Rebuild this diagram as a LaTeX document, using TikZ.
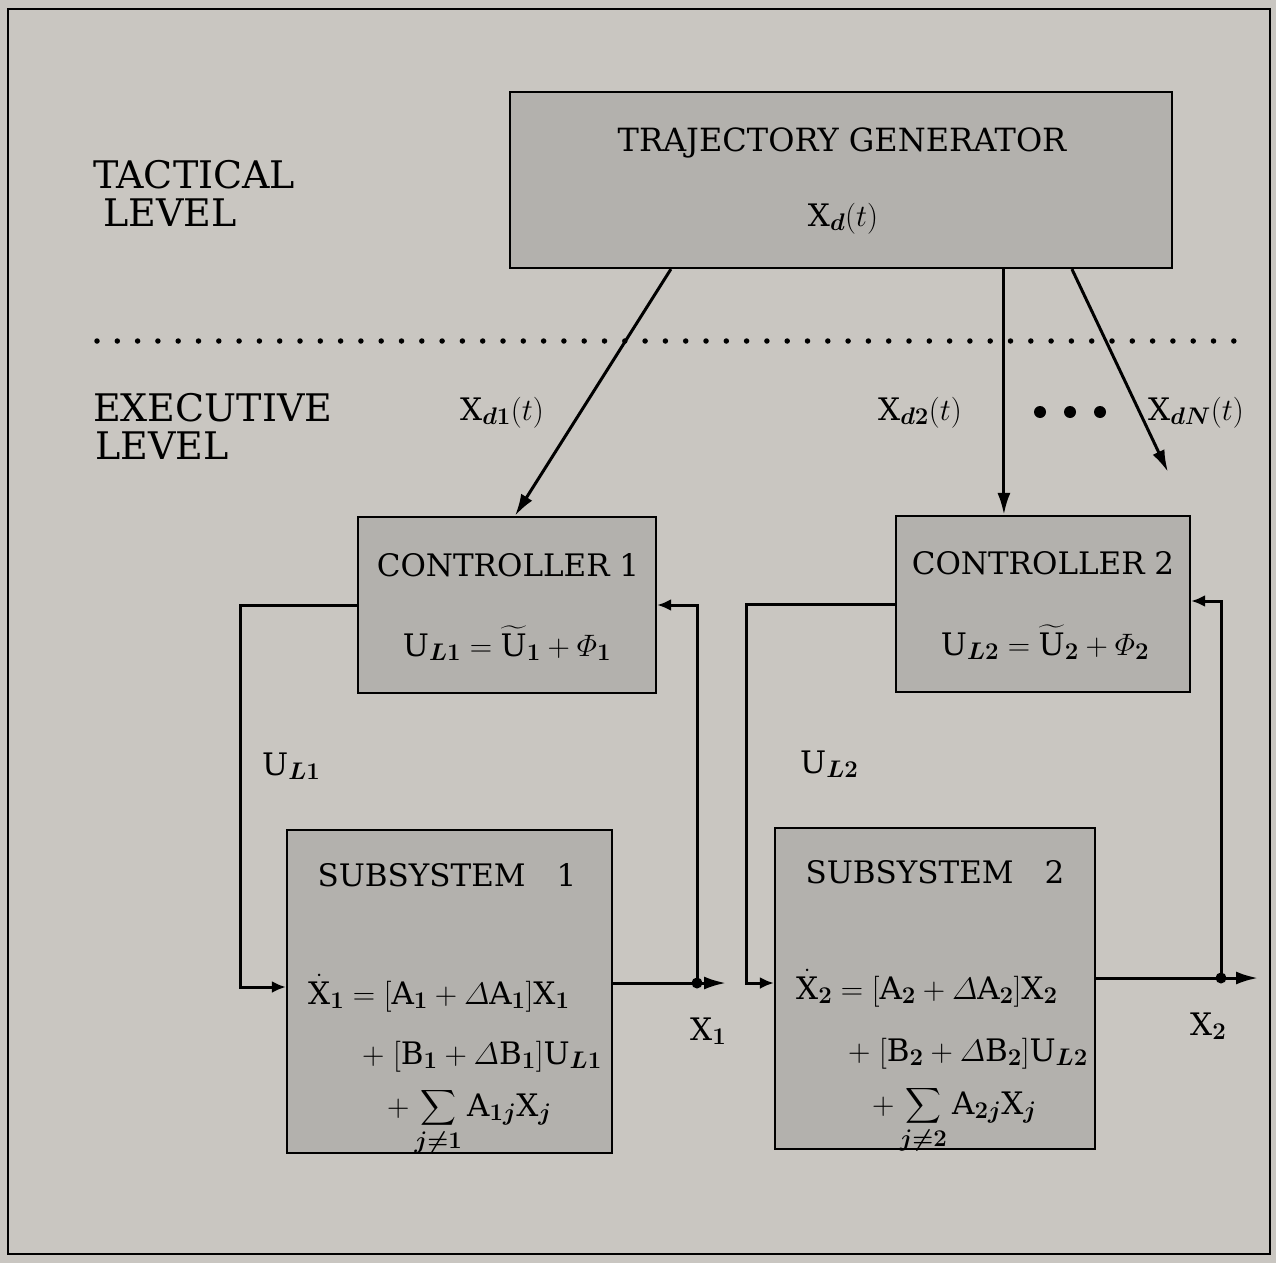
\RequirePackage{fix-cm}
\documentclass[tikz,border=0pt]{standalone}
\usepackage{amsmath}
\usepackage{fontspec}
\setmainfont{DejaVu Serif}
\usetikzlibrary{arrows.meta}
\DeclareMathSizes{31}{31}{24}{18}
\definecolor{paper}{RGB}{201,198,193}
\definecolor{boxfill}{RGB}{179,177,173}
\newcommand{\rmX}{\mathrm{X}}
\newcommand{\rmU}{\mathrm{U}}
\newcommand{\rmA}{\mathrm{A}}
\newcommand{\rmB}{\mathrm{B}}
\newcommand{\bi}[1]{\boldsymbol{#1}}
\begin{document}
\begin{tikzpicture}[x=1pt,y=-1pt,
  blk/.style={draw=black, line width=2.2pt, fill=boxfill, inner sep=0pt},
  conn/.style={line width=3pt},
  bigarr/.style={conn, -{Latex[length=22pt,width=13pt]}},
  smallarr/.style={conn, -{Latex[length=14pt,width=12pt]}},
  txt/.style={font=\fontsize{31}{37}\selectfont, inner sep=0pt},
  lvl/.style={font=\fontsize{38}{42}\selectfont, inner sep=0pt, anchor=base west},
]
\fill[paper] (0,0) rectangle (1276,1263);
\useasboundingbox (0,0) rectangle (1276,1263);
\draw[line width=2.5pt] (8,9) rectangle (1270,1254);

% level labels
\node[lvl] (tac) at (93,188) {TACTICAL};
\node[lvl] (tacl) at (103,226) {LEVEL};
\node[lvl] (exe) at (93,421) {EXECUTIVE};
\node[lvl] (exel) at (95,459) {LEVEL};

% divider
\draw[line width=5.5pt, line cap=round, dash pattern=on 0pt off 20.3pt] (97,341) -- (1236,341);

% boxes
\node[blk, minimum width=662pt, minimum height=176pt] (tg) at (841,180) {};
\node[blk, minimum width=298pt, minimum height=176pt] (c1) at (507,605) {};
\node[blk, minimum width=294pt, minimum height=176pt] (c2) at (1043,604) {};
\node[blk, minimum width=325pt, minimum height=323pt] (s1) at (449.5,991.5) {};
\node[blk, minimum width=320pt, minimum height=321pt] (s2) at (935,988.5) {};

% box texts
\node[txt, anchor=base] (tgt) at (842,151) {\fontsize{32}{37}\selectfont TRAJECTORY GENERATOR};
\node[txt, anchor=base] (tgx) at (843,226) {$\rmX_{\bi{d}}(t)$};
\node[txt, anchor=base] (c1t) at (508,576) {CONTROLLER 1};
\node[txt, anchor=base] (c1e) at (507,656) {$\rmU_{\bi{L1}}=\widetilde{\rmU}_{\bi{1}}+\varPhi_{\bi{1}}$};
\node[txt, anchor=base] (c2t) at (1043,574) {CONTROLLER 2};
\node[txt, anchor=base] (c2e) at (1045,655) {$\rmU_{\bi{L2}}=\widetilde{\rmU}_{\bi{2}}+\varPhi_{\bi{2}}$};
\node[txt, anchor=base] (s1t) at (447,886) {SUBSYSTEM\quad 1};
\node[txt, anchor=base] (s2t) at (935,883) {SUBSYSTEM\quad 2};

\node[txt, anchor=base west] (s1a) at (308,1004) {$\dot{\rmX}_{\bi{1}}=[\rmA_{\bi{1}}+\varDelta\rmA_{\bi{1}}]\rmX_{\bi{1}}$};
\node[txt, anchor=base west] (s1b) at (362,1064) {$+\;[\rmB_{\bi{1}}+\varDelta\rmB_{\bi{1}}]\rmU_{\bi{L1}}$};
\node[txt, anchor=base west] (s1c) at (387,1116) {$\displaystyle+\sum\limits_{\bi{j\neq1}}\rmA_{\bi{1j}}\rmX_{\bi{j}}$};

\node[txt, anchor=base west] (s2a) at (796,999) {$\dot{\rmX}_{\bi{2}}=[\rmA_{\bi{2}}+\varDelta\rmA_{\bi{2}}]\rmX_{\bi{2}}$};
\node[txt, anchor=base west] (s2b) at (848,1061) {$+\;[\rmB_{\bi{2}}+\varDelta\rmB_{\bi{2}}]\rmU_{\bi{L2}}$};
\node[txt, anchor=base west] (s2c) at (872,1114) {$\displaystyle+\sum\limits_{\bi{j\neq2}}\rmA_{\bi{2j}}\rmX_{\bi{j}}$};

% signal labels
\node[txt, anchor=base west] (ld1) at (460,420) {$\rmX_{\bi{d1}}(t)$};
\node[txt, anchor=base west] (ld2) at (878,420) {$\rmX_{\bi{d2}}(t)$};
\node[txt, anchor=base west] (ldN) at (1148,420) {$\rmX_{\bi{dN}}(t)$};
\node[txt, anchor=base west] (lu1) at (262,775) {$\rmU_{\bi{L1}}$};
\node[txt, anchor=base west] (lu2) at (800,773) {$\rmU_{\bi{L2}}$};
\node[txt, anchor=base west] (lx1) at (690,1040) {$\rmX_{\bi{1}}$};
\node[txt, anchor=base west] (lx2) at (1190,1035) {$\rmX_{\bi{2}}$};

% ellipsis dots
\fill (1040,412) circle (6);
\fill (1070,412) circle (6);
\fill (1100,412) circle (6);

% connectors from trajectory generator
\coordinate (dNend) at (1168,472);
\draw[bigarr] ([xshift=162pt]tg.south west) -- ([xshift=158pt]c1.north west);
\draw[bigarr] ([xshift=495pt]tg.south west) -- ([xshift=109pt]c2.north west);
\draw[bigarr] ([xshift=563pt]tg.south west) -- (dNend);

% loop 1
\coordinate (x1out) at (726,983);
\coordinate (j1) at (697,983);
\draw[smallarr] (c1.west) -- ++(-116,0) |- ([yshift=4.5pt]s1.west);
\draw[bigarr] ([yshift=8.5pt]s1.east) -- (x1out);
\draw[smallarr] (j1) |- (c1.east);
\fill (j1) circle (5.5);

% loop 2
\coordinate (x2out) at (1258,978);
\coordinate (j2) at (1221,978);
\draw[smallarr] (c2.west) -- ++(-148,0) |- ([yshift=5.5pt]s2.west);
\draw[bigarr] ([yshift=10.5pt]s2.east) -- (x2out);
\draw[smallarr] (j2) |- ([yshift=3pt]c2.east);
\fill (j2) circle (5.5);
\end{tikzpicture}
\end{document}
